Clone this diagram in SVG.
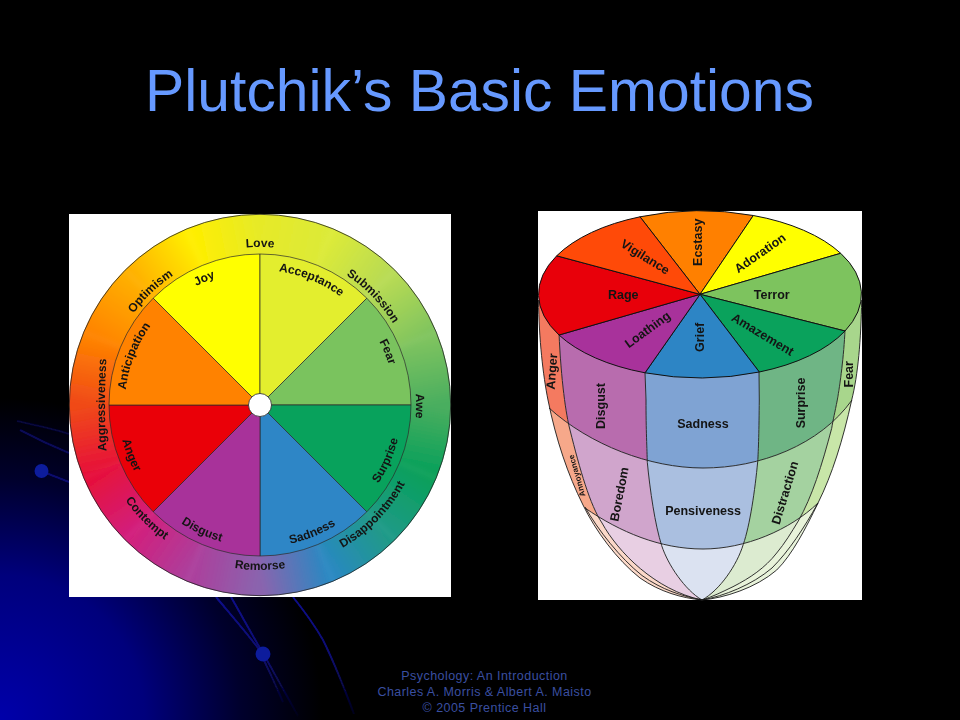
<svg xmlns="http://www.w3.org/2000/svg" xmlns:xlink="http://www.w3.org/1999/xlink" width="960" height="720" viewBox="0 0 960 720">
<style>
text{font-family:"Liberation Sans",Arial,sans-serif}
.t{font-size:12px;font-weight:700;fill:#141414;text-anchor:middle}
.b{font-size:12.5px;font-weight:700;fill:#141414;text-anchor:middle}
.w{stroke:#2a2a2a;stroke-width:.7}
.e{stroke:#111;stroke-width:1}
.m{fill:none;stroke:#1c1c1c;stroke-width:.9}
.d{fill:none;stroke:url(#fade);stroke-width:2}
.f{font-size:12.5px;fill:#3a4fa0;text-anchor:middle;letter-spacing:.45px}
</style>
<defs>
<radialGradient id="bg" gradientUnits="userSpaceOnUse" cx="0" cy="720" r="322">
<stop offset="0" stop-color="#0000aa"/><stop offset=".45" stop-color="#00007c"/><stop offset=".75" stop-color="#00002c"/><stop offset="1" stop-color="#000"/>
</radialGradient>
<linearGradient id="fade" gradientUnits="userSpaceOnUse" x1="0" y1="597" x2="0" y2="716"><stop offset="0" stop-color="#10108c"/><stop offset=".5" stop-color="#0c0c70"/><stop offset="1" stop-color="#020218"/></linearGradient>
<linearGradient id="g0" gradientUnits="userSpaceOnUse" x1="260" y1="234" x2="325.4" y2="247"><stop offset="0" stop-color="#e6ea28"/><stop offset="1" stop-color="#dcea38"/></linearGradient>
<linearGradient id="g1" gradientUnits="userSpaceOnUse" x1="325.4" y1="247" x2="380.9" y2="284.1"><stop offset="0" stop-color="#dcea38"/><stop offset="1" stop-color="#b8db54"/></linearGradient>
<linearGradient id="g2" gradientUnits="userSpaceOnUse" x1="380.9" y1="284.1" x2="418" y2="339.6"><stop offset="0" stop-color="#b8db54"/><stop offset="1" stop-color="#80c45e"/></linearGradient>
<linearGradient id="g3" gradientUnits="userSpaceOnUse" x1="418" y1="339.6" x2="431" y2="405"><stop offset="0" stop-color="#80c45e"/><stop offset="1" stop-color="#4aae5e"/></linearGradient>
<linearGradient id="g4" gradientUnits="userSpaceOnUse" x1="431" y1="405" x2="418" y2="470.4"><stop offset="0" stop-color="#4aae5e"/><stop offset="1" stop-color="#08a05a"/></linearGradient>
<linearGradient id="g5" gradientUnits="userSpaceOnUse" x1="418" y1="470.4" x2="380.9" y2="525.9"><stop offset="0" stop-color="#08a05a"/><stop offset="1" stop-color="#1f9a86"/></linearGradient>
<linearGradient id="g6" gradientUnits="userSpaceOnUse" x1="380.9" y1="525.9" x2="325.4" y2="563"><stop offset="0" stop-color="#1f9a86"/><stop offset="1" stop-color="#2a88c2"/></linearGradient>
<linearGradient id="g7" gradientUnits="userSpaceOnUse" x1="325.4" y1="563" x2="260" y2="576"><stop offset="0" stop-color="#2a88c2"/><stop offset="1" stop-color="#8a64ae"/></linearGradient>
<linearGradient id="g8" gradientUnits="userSpaceOnUse" x1="260" y1="576" x2="194.6" y2="563"><stop offset="0" stop-color="#8a64ae"/><stop offset="1" stop-color="#ac3f9c"/></linearGradient>
<linearGradient id="g9" gradientUnits="userSpaceOnUse" x1="194.6" y1="563" x2="139.1" y2="525.9"><stop offset="0" stop-color="#ac3f9c"/><stop offset="1" stop-color="#d21f7c"/></linearGradient>
<linearGradient id="g10" gradientUnits="userSpaceOnUse" x1="139.1" y1="525.9" x2="102" y2="470.4"><stop offset="0" stop-color="#d21f7c"/><stop offset="1" stop-color="#e6103a"/></linearGradient>
<linearGradient id="g11" gradientUnits="userSpaceOnUse" x1="102" y1="470.4" x2="89" y2="405"><stop offset="0" stop-color="#e6103a"/><stop offset="1" stop-color="#f04a18"/></linearGradient>
<linearGradient id="g12" gradientUnits="userSpaceOnUse" x1="89" y1="405" x2="102" y2="339.6"><stop offset="0" stop-color="#f04a18"/><stop offset="1" stop-color="#ff8400"/></linearGradient>
<linearGradient id="g13" gradientUnits="userSpaceOnUse" x1="102" y1="339.6" x2="139.1" y2="284.1"><stop offset="0" stop-color="#ff8400"/><stop offset="1" stop-color="#ffb000"/></linearGradient>
<linearGradient id="g14" gradientUnits="userSpaceOnUse" x1="139.1" y1="284.1" x2="194.6" y2="247"><stop offset="0" stop-color="#ffb000"/><stop offset="1" stop-color="#ffee00"/></linearGradient>
<linearGradient id="g15" gradientUnits="userSpaceOnUse" x1="194.6" y1="247" x2="260" y2="234"><stop offset="0" stop-color="#ffee00"/><stop offset="1" stop-color="#e6ea28"/></linearGradient>
<filter id="soft" filterUnits="userSpaceOnUse" x="50" y="195" width="420" height="420"><feGaussianBlur stdDeviation="2.5"/></filter>
<filter id="haze" filterUnits="userSpaceOnUse" x="0" y="400" width="400" height="320"><feGaussianBlur stdDeviation=".7"/></filter>
<clipPath id="disc"><circle cx="260" cy="405" r="191"/></clipPath>
<path id="cwo" d="M260 561A156 156 0 1 1 260 249A156 156 0 1 1 260 561"/>
<path id="cag" d="M107.500 465A700 700 0 0 1 107.500 345"/>
<path id="cco" d="M260 240A165 165 0 1 0 260 570A165 165 0 1 0 260 240"/>
<path id="cwi" d="M260 540A135 135 0 1 1 260 270A135 135 0 1 1 260 540"/>
<path id="cci" d="M260 263A142 142 0 1 0 260 547A142 142 0 1 0 260 263"/>
<path id="s1" d="M538.500 300C539 340 543 375 548 400C556 440 568 475 583 505C595 530 617 560 640 578C660 592 682 598 702 600C655 590 618 552 602 523C590 505 580 470 570 430C566 415 561 380 559 333Z"/>
<path id="s2" d="M559 333C561 380 566 415 570 430C580 470 590 505 602 523C618 552 655 590 702 600C685 590 668 565 661.700 545.700C655 525 650 490 647.300 462.300C647 450 646 430 646 400L645 372Z"/>
<path id="s3" d="M645 372L646 400C646 430 647 450 647.300 462.300C650 490 655 525 661.700 545.700C668 565 685 590 702 600C720 590 737 565 743.300 544.300C750 525 755 490 757.700 461.700C758.500 450 759 430 759.300 400L759 371Z"/>
<path id="s4" d="M759 371L759.300 400C759 430 758.500 450 757.700 461.700C755 490 750 525 743.300 544.300C737 565 720 590 702 600C712 597 722 592 733 586.700C750 578 765 568 776.700 553C785 543 791 533 798.300 521C812 497 822 465 831.700 428.300C833 420 835 412 837.300 400C840 385 844 355 845 330Z"/>
<path id="s5" d="M845 330C844 355 840 385 837.300 400C835 412 833 420 831.700 428.300C822 465 812 497 798.300 521C791 533 785 543 776.700 553C765 568 750 578 733 586.700C722 592 712 597 702 600C724 598 756 588 776.700 570C792 555 806 528 818 503C832 475 843 440 851.700 400C858 375 861 340 861.700 300Z"/>
<clipPath id="b1"><path d="M530 200H870V400H852C820 445 760 468 703 468C650 468 590 445 549 408H530Z"/></clipPath>
<clipPath id="b2"><path d="M530 408H549C590 445 650 468 703 468C760 468 820 445 852 400H870V503H818C790 530 745 549 703 549C660 549 620 532 585 508H530Z"/></clipPath>
<clipPath id="b3"><path d="M530 508H585C620 532 660 549 703 549C745 549 790 530 818 503H870V610H530Z"/></clipPath>
</defs>

<g id="background">
<rect width="960" height="720" fill="#000"/>
<rect width="960" height="720" fill="url(#bg)"/>
<g filter="url(#haze)">
<g fill="none" stroke="#10108c" stroke-width="2">
<path opacity=".35" d="M17 421C35 425 55 429 69 434"/>
<path opacity=".55" d="M20 430C35 438 52 446 69 453"/>
<path opacity=".7" d="M41 471L69 482"/>
</g>
<path class="d" d="M216 597C232 616 246 632 258 648C268 668 276 686 283 702"/>
<path class="d" d="M231 597C242 616 252 635 263 653C276 676 288 698 298 716"/>
<path class="d" d="M293 597C305 612 315 626 323 640C335 664 345 690 354 714"/>
<circle cx="41.500" cy="471" r="7" fill="#0a1a9c"/>
<circle cx="263" cy="654" r="7.500" fill="#0a1a9c"/>
</g>
</g>

<g id="title"><text x="479.500" y="111" font-size="58.800" fill="#6699ff" text-anchor="middle">Plutchik’s Basic Emotions</text></g>

<g id="wheel">
<rect x="69" y="214" width="382" height="383" fill="#fff"/>
<g id="wheel-ring" clip-path="url(#disc)">
<g filter="url(#soft)" fill="none" stroke-width="50">
<path stroke="url(#g0)" d="M260 234A171 171 0 0 1 325.400 247"/>
<path stroke="url(#g1)" d="M325.400 247A171 171 0 0 1 380.900 284.100"/>
<path stroke="url(#g2)" d="M380.900 284.100A171 171 0 0 1 418 339.600"/>
<path stroke="url(#g3)" d="M418 339.600A171 171 0 0 1 431 405"/>
<path stroke="url(#g4)" d="M431 405A171 171 0 0 1 418 470.400"/>
<path stroke="url(#g5)" d="M418 470.400A171 171 0 0 1 380.900 525.900"/>
<path stroke="url(#g6)" d="M380.900 525.900A171 171 0 0 1 325.400 563"/>
<path stroke="url(#g7)" d="M325.400 563A171 171 0 0 1 260 576"/>
<path stroke="url(#g8)" d="M260 576A171 171 0 0 1 194.600 563"/>
<path stroke="url(#g9)" d="M194.600 563A171 171 0 0 1 139.100 525.900"/>
<path stroke="url(#g10)" d="M139.100 525.900A171 171 0 0 1 102 470.400"/>
<path stroke="url(#g11)" d="M102 470.400A171 171 0 0 1 89 405"/>
<path stroke="url(#g12)" d="M89 405A171 171 0 0 1 102 339.600"/>
<path stroke="url(#g13)" d="M102 339.600A171 171 0 0 1 139.100 284.100"/>
<path stroke="url(#g14)" d="M139.100 284.100A171 171 0 0 1 194.600 247"/>
<path stroke="url(#g15)" d="M194.600 247A171 171 0 0 1 260 234"/>
</g>
</g>
<circle cx="260" cy="405" r="190.700" fill="none" stroke="#222" stroke-width=".8"/>
<g id="wheel-sectors">
<path class="w" fill="#ffff00" d="M260 405L153.200 298.200A151 151 0 0 1 260 254Z"/>
<path class="w" fill="#e3ee2e" d="M260 405V254A151 151 0 0 1 366.800 298.200Z"/>
<path class="w" fill="#7ac35e" d="M260 405L366.800 298.200A151 151 0 0 1 411 405Z"/>
<path class="w" fill="#08a25c" d="M260 405H411A151 151 0 0 1 366.800 511.800Z"/>
<path class="w" fill="#2e86c6" d="M260 405L366.800 511.800A151 151 0 0 1 260 556Z"/>
<path class="w" fill="#a8329a" d="M260 405V556A151 151 0 0 1 153.200 511.800Z"/>
<path class="w" fill="#ea0008" d="M260 405L153.200 511.800A151 151 0 0 1 109 405Z"/>
<path class="w" fill="#ff8200" d="M260 405H109A151 151 0 0 1 153.200 298.200Z"/>
</g>
<circle id="wheel-hub" cx="260" cy="405" r="11.500" fill="#fff" stroke="#222" stroke-width=".8"/>
<g id="wheel-labels">
<text class="t"><textPath xlink:href="#cwo" href="#cwo" startOffset="50%"><tspan dy="-2">Love</tspan></textPath></text>
<text class="t"><textPath xlink:href="#cwo" href="#cwo" startOffset="62.800%">Submission</textPath></text>
<text class="t"><textPath xlink:href="#cwo" href="#cwo" startOffset="75.100%">Awe</textPath></text>
<text class="t"><textPath xlink:href="#cwo" href="#cwo" startOffset="37.800%">Optimism</textPath></text>
<text class="t"><textPath xlink:href="#cag" href="#cag" startOffset="50%">Aggressiveness</textPath></text>
<text class="t"><textPath xlink:href="#cco" href="#cco" startOffset="50%">Remorse</textPath></text>
<text class="t"><textPath xlink:href="#cco" href="#cco" startOffset="37.500%">Contempt</textPath></text>
<text class="t"><textPath xlink:href="#cco" href="#cco" startOffset="62.700%">Disappointment</textPath></text>
<text class="t"><textPath xlink:href="#cwi" href="#cwi" startOffset="43.400%">Joy</textPath></text>
<text class="t"><textPath xlink:href="#cwi" href="#cwi" startOffset="56.200%">Acceptance</textPath></text>
<text class="t"><textPath xlink:href="#cwi" href="#cwi" startOffset="68.700%">Fear</textPath></text>
<text class="t"><textPath xlink:href="#cwi" href="#cwi" startOffset="30.900%">Anticipation</textPath></text>
<text class="t"><textPath xlink:href="#cci" href="#cci" startOffset="68.400%">Surprise</textPath></text>
<text class="t"><textPath xlink:href="#cci" href="#cci" startOffset="56.200%">Sadness</textPath></text>
<text class="t"><textPath xlink:href="#cci" href="#cci" startOffset="43.100%">Disgust</textPath></text>
<text class="t"><textPath xlink:href="#cci" href="#cci" startOffset="30.900%">Anger</textPath></text>
</g>
</g>

<g id="solid">
<rect x="538" y="211" width="324" height="389" fill="#fff"/>
<g id="solid-band1" clip-path="url(#b1)">
<use href="#s1" fill="#f47a60"/><use href="#s2" fill="#b86cae"/><use href="#s3" fill="#7fa3d3"/><use href="#s4" fill="#6fb585"/><use href="#s5" fill="#a8d68c"/>
</g>
<g id="solid-band2" clip-path="url(#b2)">
<use href="#s1" fill="#f6a88a"/><use href="#s2" fill="#d0a5cc"/><use href="#s3" fill="#aabfe0"/><use href="#s4" fill="#a4d2a0"/><use href="#s5" fill="#c8e6a8"/>
</g>
<g id="solid-band3" clip-path="url(#b3)">
<use href="#s1" fill="#fbd8c8"/><use href="#s2" fill="#e8cfe3"/><use href="#s3" fill="#dbe2f1"/><use href="#s4" fill="#dcebd0"/><use href="#s5" fill="#e8f3da"/>
</g>
<g id="solid-lines">
<path class="m" d="M538.500 300C539 340 543 375 548 400C556 440 568 475 583 505C595 530 617 560 640 578C660 592 682 598 702 600C724 598 756 588 776.700 570C792 555 806 528 818 503C832 475 843 440 851.700 400C858 375 861 340 861.700 300"/>
<path class="m" d="M585 507C598 530 620 558 642 575.500C662 590 682 596 702 600C724 596 752 585 772 568C789 551 804 528 818 503"/>
<path class="m" d="M559 333C561 380 566 415 570 430C580 470 590 505 602 523C618 552 655 590 702 600"/>
<path class="m" d="M645 372L646 400C646 430 647 450 647.300 462.300C650 490 655 525 661.700 545.700C668 565 685 590 702 600"/>
<path class="m" d="M759 371L759.300 400C759 430 758.500 450 757.700 461.700C755 490 750 525 743.300 544.300C737 565 720 590 702 600"/>
<path class="m" d="M845 330C844 355 840 385 837.300 400C835 412 833 420 831.700 428.300C822 465 812 497 798.300 521C791 533 785 543 776.700 553C765 568 750 578 733 586.700C722 592 712 597 702 600"/>
<path class="m" d="M549 408C590 445 650 468 703 468C760 468 820 445 852 400"/>
<path class="m" d="M585 508C620 532 660 549 703 549C745 549 790 530 818 503"/>
</g>
<g id="solid-top">
<path class="e" fill="#ff8000" d="M700 294.300L640 216.800A161.500 83.500 0 0 1 753.300 215.500Z"/>
<path class="e" fill="#ffff00" d="M700 294.300L753.300 215.500A161.500 83.500 0 0 1 840.700 253.300Z"/>
<path class="e" fill="#7dc35e" d="M700 294.300L840.700 253.300A161.500 83.500 0 0 1 845 331Z"/>
<path class="e" fill="#0aa25c" d="M700 294.300L845 331A161.500 83.500 0 0 1 759.300 372Z"/>
<path class="e" fill="#2d85c5" d="M700 294.300L759.300 372A161.500 83.500 0 0 1 645 372.800Z"/>
<path class="e" fill="#a8329b" d="M700 294.300L645 372.800A161.500 83.500 0 0 1 559 335Z"/>
<path class="e" fill="#e8000a" d="M700 294.300L559 335A161.500 83.500 0 0 1 556.700 255.800Z"/>
<path class="e" fill="#ff4a08" d="M700 294.300L556.700 255.800A161.500 83.500 0 0 1 640 216.800Z"/>
</g>
<g id="solid-labels">
<text class="b" x="623.300" y="298.500">Rage</text>
<text class="b" x="771.700" y="298.500">Terror</text>
<text class="b" transform="translate(702 242.300) rotate(-90)">Ecstasy</text>
<text class="b" transform="translate(762.500 256.500) rotate(-35)">Adoration</text>
<text class="b" transform="translate(643 260.500) rotate(32)">Vigilance</text>
<text class="b" transform="translate(650 333) rotate(-36)">Loathing</text>
<text class="b" transform="translate(704 337.300) rotate(-90)">Grief</text>
<text class="b" transform="translate(760.500 338) rotate(31)">Amazement</text>
<text class="b" transform="translate(556 371.700) rotate(-86)">Anger</text>
<text class="b" transform="translate(852.500 374.300) rotate(-90)">Fear</text>
<text class="b" transform="translate(605 406) rotate(-90)">Disgust</text>
<text class="b" transform="translate(805 403) rotate(-90)">Surprise</text>
<text class="b" x="703" y="428">Sadness</text>
<text class="b" transform="translate(623.500 495) rotate(-79)">Boredom</text>
<text class="b" x="703" y="514.500">Pensiveness</text>
<text class="b" transform="translate(789 494) rotate(-73)">Distraction</text>
<text transform="translate(579.500 475) rotate(-106)" font-size="8" font-weight="700" fill="#141414" text-anchor="middle">Annoyance</text>
</g>
</g>

<g id="footer">
<text class="f" x="484.500" y="680">Psychology: An Introduction</text>
<text class="f" x="484.500" y="696">Charles A. Morris &amp; Albert A. Maisto</text>
<text class="f" x="484.500" y="712">© 2005 Prentice Hall</text>
</g>
</svg>
